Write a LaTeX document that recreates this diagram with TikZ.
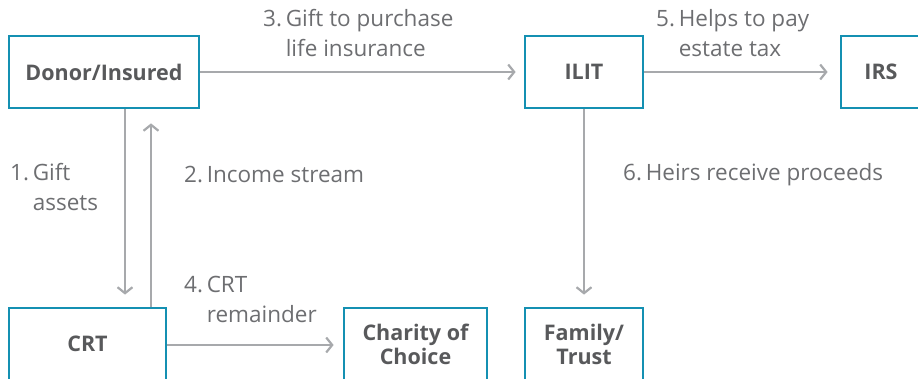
\documentclass[tikz,border=0pt]{standalone}
\usepackage{fontspec}
\setmainfont{Open Sans}
\usepackage{xcolor}
\usetikzlibrary{arrows.meta,positioning}
\definecolor{teal}{HTML}{1490B2}
\definecolor{arrgray}{HTML}{A7A9AC}
\definecolor{txtgray}{HTML}{6D6E71}
\definecolor{boxtxt}{HTML}{58595B}

\begin{document}
\begin{tikzpicture}[x=1pt,y=-1pt,font=\fontsize{22.5}{30}\selectfont,
  box/.style={draw=teal,line width=2.8pt,inner sep=0pt,minimum height=72pt,align=center,
    text=boxtxt,font=\fontsize{21.5}{24}\selectfont\bfseries},
  arr/.style={-{Straight Barb[length=6pt,width=15pt]},draw=arrgray,line width=2.2pt},
  lbl/.style={anchor=west,inner sep=0pt,text=txtgray}]
\useasboundingbox (0,0) rectangle (918,379);
\clip (0,0) rectangle (918,379);
\node[box,minimum width=190pt] (donor) at (104,72) {Donor/Insured};
\node[box,minimum width=118pt] (ilit) at (584,72) {ILIT};
\node[box,minimum width=80pt] (irs) at (881,72) {IRS};
\node[box,minimum width=157pt] (crt) at (87.5,344) {CRT};
\node[box,minimum width=143pt] (charity) at (415.5,344) {Charity of\\Choice};
\node[box,minimum width=118pt] (family) at (584,344) {Family/\\Trust};
% connectors
\draw[arr,shorten >=8pt] (donor) -- (ilit);
\draw[arr,shorten >=12pt] (ilit) -- (irs);
\draw[arr,shorten >=12pt] ([xshift=21pt]donor.south) -- ([xshift=21pt]donor.south |- crt.north);
\draw[arr,shorten >=14pt] ([xshift=63.5pt]crt.north) -- ([xshift=63.5pt]crt.north |- donor.south);
\draw[arr,shorten >=9pt] (crt.east |- 0,345) -- (charity.west |- 0,345);
\draw[arr,shorten >=12pt] (ilit) -- (family);
% step labels
\node[lbl] (l1) at (10,190) {\begin{tabular}{@{}l@{\,}l@{}}1.&Gift\\&assets\end{tabular}};
\node[lbl] (l2) at (184,175) {2.\,Income stream};
\node[lbl] (l3) at (263,36) {\begin{tabular}{@{}l@{\,}l@{}}3.&Gift to purchase\\&life insurance\end{tabular}};
\node[lbl] (l4) at (184,302) {\begin{tabular}{@{}l@{\,}l@{}}4.&CRT\\&remainder\end{tabular}};
\node[lbl] (l5) at (656,36) {\begin{tabular}{@{}l@{\,}l@{}}5.&Helps to pay\\&estate tax\end{tabular}};
\node[lbl] (l6) at (623,175) {6.\,Heirs receive proceeds};
\end{tikzpicture}
\end{document}
